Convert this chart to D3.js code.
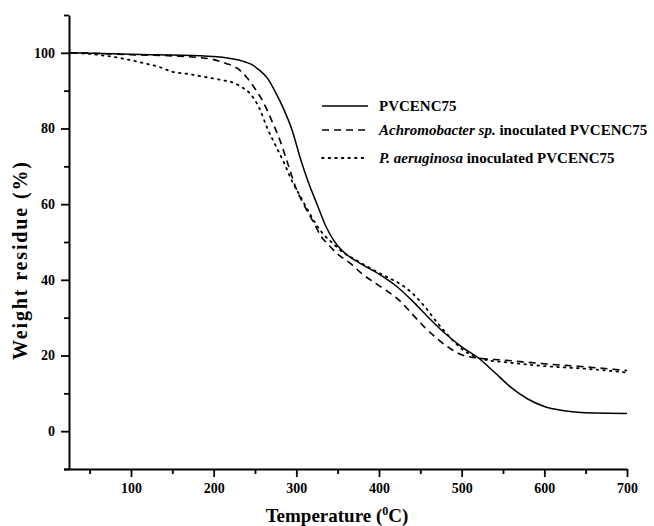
<!DOCTYPE html>
<html><head><meta charset="utf-8">
<script src="https://cdnjs.cloudflare.com/ajax/libs/d3/7.8.5/d3.min.js"></script>
<style>body{margin:0;background:#fff}svg{display:block}</style>
</head><body><svg id="c" width="654" height="526"></svg>
<script>
// Data (Temperature °C, weight residue %)
const tempPVC = [25,50,100,150,200,220,235,245,255,265,275,285,295,305,315,325,335,345,355,365,380,400,420,440,460,480,500,520,540,560,580,600,620,640,660,700];
const resPVC  = [100,99.9,99.6,99.4,99.0,98.5,97.8,97,95.5,93.3,89.5,85,79.5,72,65.5,60,54.5,50.5,47.8,46,44,41.5,38.5,34.5,30,25.8,22.3,19.4,15.5,11.5,8.5,6.5,5.5,5.0,4.8,4.7];
const tempAch = [25,50,100,150,180,200,215,228,240,250,260,270,280,290,300,310,320,330,340,350,365,380,395,410,425,440,455,470,485,500,520,550,600,650,700];
const resAch  = [100,99.9,99.5,99.2,98.8,98.2,97.2,96,93.5,90.5,87,82.2,77,70.5,64,59.5,55.5,51.5,49,46.8,44.4,41.5,39.2,37,34.5,31,27.5,24.5,22,20.2,19.3,18.8,17.8,17,16];
const tempPa  = [25,50,70,90,113,135,150,170,190,210,225,235,245,255,265,275,285,295,305,315,325,335,345,355,370,390,410,425,440,455,470,485,500,515,530,550,600,650,700];
const resPa   = [100,99.7,99.2,98.5,97.4,96.2,95,94.4,93.6,92.8,92,90.8,89,85.5,80,75.5,71,66,62,58,54.3,51.5,49.5,47.5,45.5,43,40.7,39,36.5,33,28.8,25,21.8,19.8,18.8,18.3,17.2,16.5,15.5];
const seriesNames = ["PVCENC75", "Achromobacter sp.", "P. aeruginosa"];
const xTicks = [100,200,300,400,500,600,700];
const yTicks = [0,20,40,60,80,100];

const svg = d3.select("#c");
const font = "'Liberation Serif','Times New Roman',serif";
const x = d3.scaleLinear().domain([25,700]).range([69,627]);
const y = d3.scaleLinear().domain([-10,110]).range([469,15]);

const series = [
  {t: tempPVC, v: resPVC, dash: null, w: 1.5},
  {t: tempAch, v: resAch, dash: "7,5", w: 1.6},
  {t: tempPa,  v: resPa,  dash: "1.6,5", w: 1.8}
];
const line = d3.line().curve(d3.curveMonotoneX).x(d=>x(d[0])).y(d=>y(d[1]));
series.forEach(s=>{
  svg.append("path").datum(s.t.map((t,i)=>[t,s.v[i]]))
    .attr("d", line).attr("fill","none").attr("stroke","#000")
    .attr("stroke-width", s.w).attr("stroke-dasharray", s.dash)
    .attr("stroke-linecap", s.dash && s.dash.startsWith("1.6") ? "round" : "butt");
});

// Axes
const xAxis = svg.append("g").attr("transform","translate(0,469)");
xAxis.call(d3.axisBottom(x).tickValues(xTicks).tickSize(8).tickSizeOuter(0).tickPadding(6));
const xMinor = svg.append("g").attr("transform","translate(0,469)");
xMinor.call(d3.axisBottom(x).tickValues([50,150,250,350,450,550,650]).tickSize(5).tickFormat("").tickSizeOuter(0));
xMinor.select(".domain").remove();
const yAxis = svg.append("g").attr("transform","translate(69,0)");
yAxis.call(d3.axisLeft(y).tickValues(yTicks).tickSize(8).tickSizeOuter(0).tickPadding(6));
const yMinor = svg.append("g").attr("transform","translate(69,0)");
yMinor.call(d3.axisLeft(y).tickValues([-10,10,30,50,70,90,110]).tickSize(5).tickFormat("").tickSizeOuter(0));
yMinor.select(".domain").remove();
svg.selectAll(".domain").attr("stroke-width",2);
svg.selectAll(".tick line").attr("stroke-width",1.8);
svg.selectAll(".tick text").attr("font-family",font).attr("font-weight","bold").attr("font-size",14).attr("fill","#000");
xAxis.select(".domain").attr("d","M64,0.5H627");

// Axis titles
const xt = svg.append("text").attr("x",337).attr("y",522).attr("text-anchor","middle")
  .attr("font-family",font).attr("font-weight","bold").attr("font-size",19);
xt.append("tspan").text("Temperature (");
xt.append("tspan").attr("font-size",12).attr("dy",-7).text("0");
xt.append("tspan").attr("dy",7).text("C)");
svg.append("text").attr("transform","translate(27,261) rotate(-90)").attr("text-anchor","middle")
  .attr("font-family",font).attr("font-weight","bold").attr("font-size",20)
  .attr("textLength",198).attr("lengthAdjust","spacing").text("Weight residue (%)");

// Legend
const legY = [106,130,158];
const legLabels = [
  [["PVCENC75", false]],
  [["Achromobacter sp.", true],[" inoculated PVCENC75", false]],
  [["P. aeruginosa", true],[" inoculated PVCENC75", false]]
];
series.forEach((s,i)=>{
  svg.append("line").attr("x1",322).attr("x2",368).attr("y1",legY[i]).attr("y2",legY[i])
    .attr("stroke","#000").attr("stroke-width",s.w).attr("stroke-dasharray",s.dash)
    .attr("stroke-linecap", s.dash && s.dash.startsWith("1.6") ? "round" : "butt");
  const t = svg.append("text").attr("x",379).attr("y",legY[i]+5)
    .attr("font-family",font).attr("font-weight","bold").attr("font-size",15);
  legLabels[i].forEach(p=>t.append("tspan").attr("font-style",p[1]?"italic":"normal").text(p[0]));
});
</script></body></html>
